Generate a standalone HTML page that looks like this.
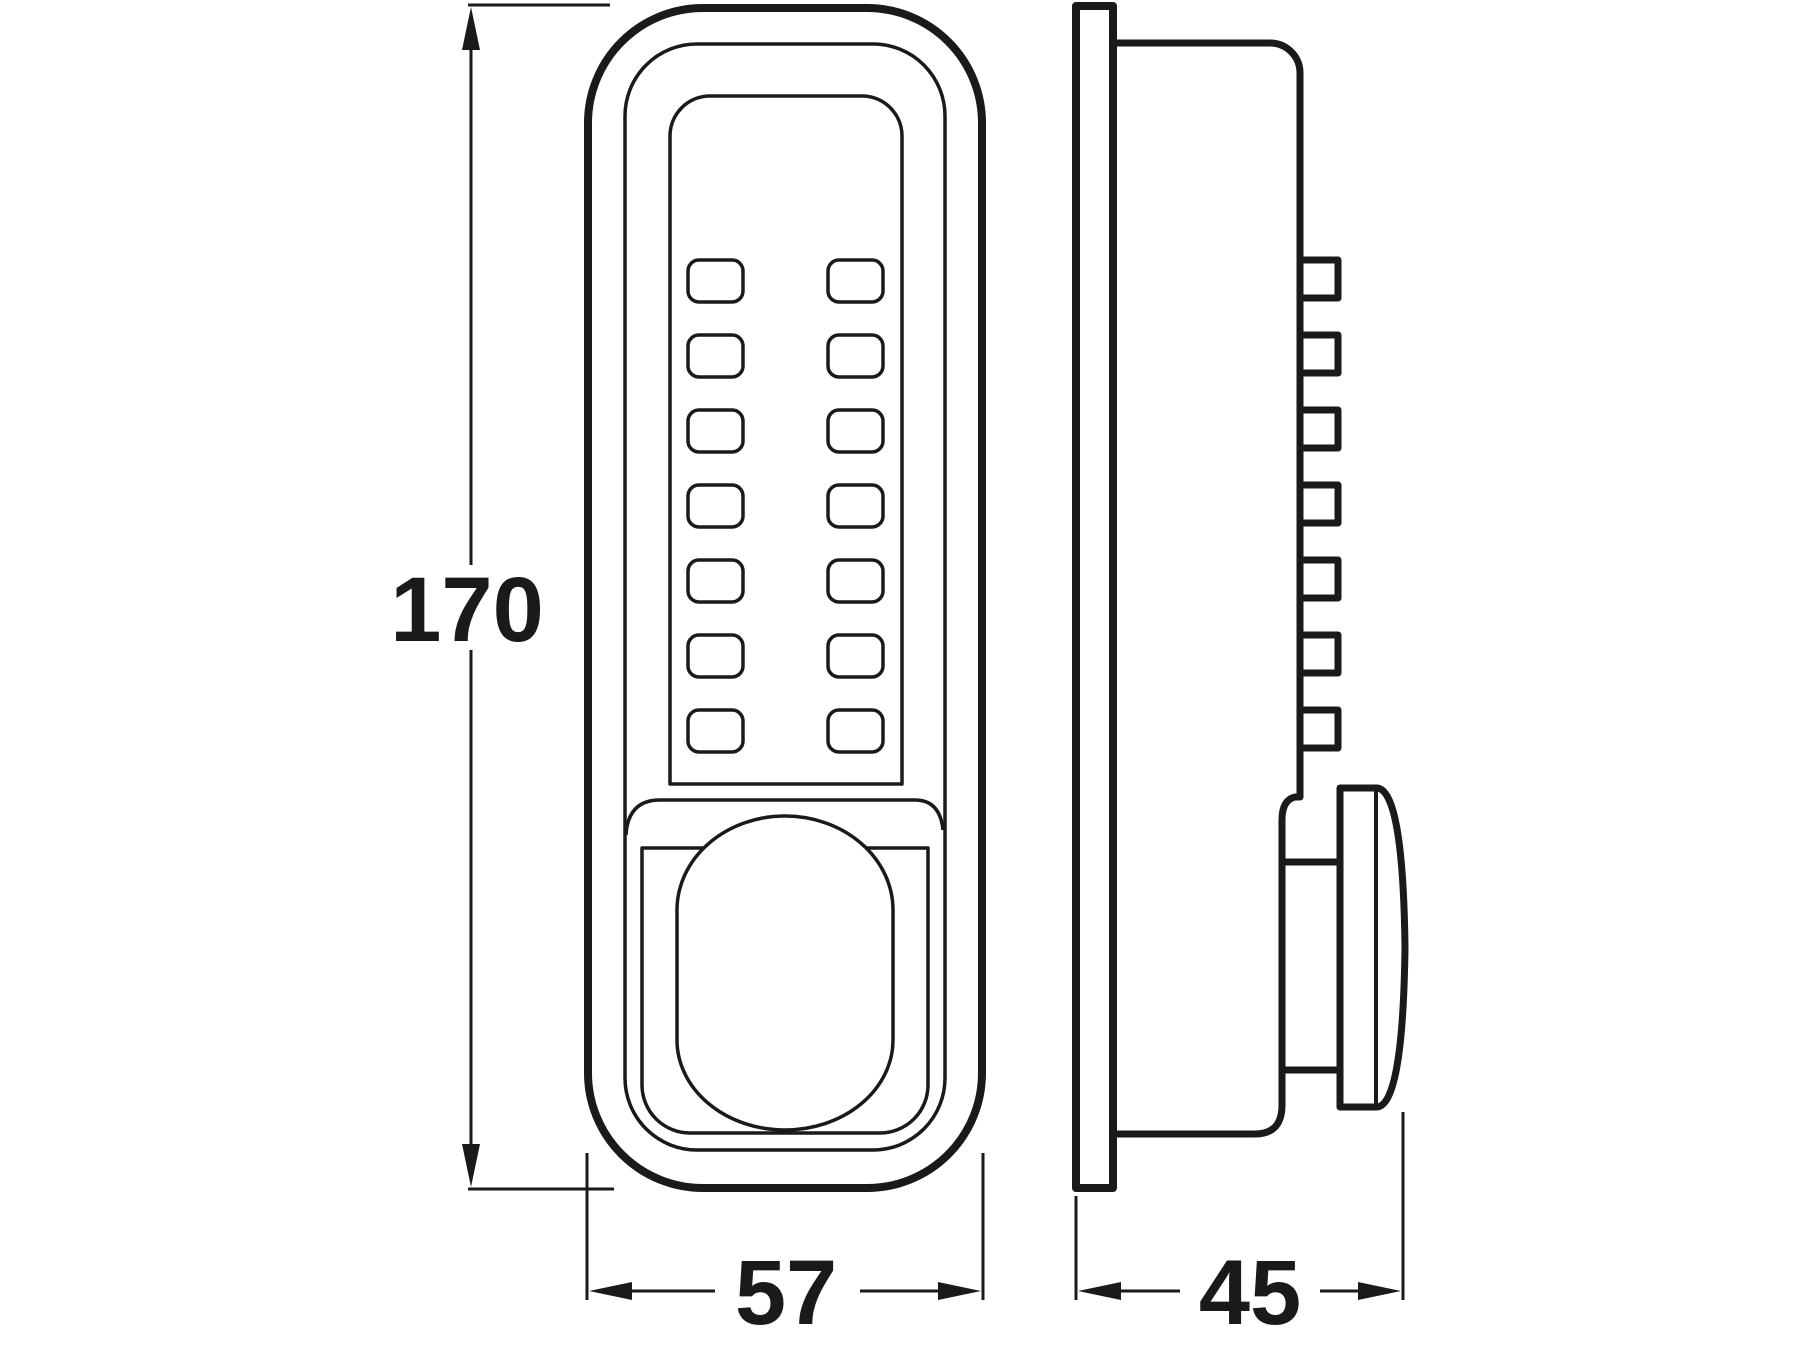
<!DOCTYPE html>
<html><head><meta charset="utf-8"><style>
html,body{margin:0;padding:0;background:#fff;}
svg{display:block;}
text{font-family:"Liberation Sans",Arial,sans-serif;font-weight:bold;fill:#1a1a1a;}
</style></head><body>
<svg width="1800" height="1350" viewBox="0 0 1800 1350" xmlns="http://www.w3.org/2000/svg">
<g fill="none" stroke="#1a1a1a" stroke-linejoin="round">
<!-- front view -->
<rect x="588" y="8" width="394" height="1180" rx="115" ry="115" stroke-width="8"/>
<rect x="625" y="44" width="320" height="1106" rx="72" ry="72" stroke-width="3.5"/>
<path d="M670 784 L670 136 A40 40 0 0 1 710 96 L862 96 A40 40 0 0 1 902 136 L902 784 Z" stroke-width="3.5"/>
<g stroke-width="3.5">
<rect x="688" y="260" width="55" height="42" rx="11"/><rect x="828" y="260" width="55" height="42" rx="11"/>
<rect x="688" y="335" width="55" height="42" rx="11"/><rect x="828" y="335" width="55" height="42" rx="11"/>
<rect x="688" y="410" width="55" height="42" rx="11"/><rect x="828" y="410" width="55" height="42" rx="11"/>
<rect x="688" y="485" width="55" height="42" rx="11"/><rect x="828" y="485" width="55" height="42" rx="11"/>
<rect x="688" y="560" width="55" height="42" rx="11"/><rect x="828" y="560" width="55" height="42" rx="11"/>
<rect x="688" y="635" width="55" height="42" rx="11"/><rect x="828" y="635" width="55" height="42" rx="11"/>
<rect x="688" y="710" width="55" height="42" rx="11"/><rect x="828" y="710" width="55" height="42" rx="11"/>
</g>
<path d="M626 835 Q628 800 660 800 L915 800 Q940 800 943 830" stroke-width="3.5"/>
<path d="M642 848 L642 1085 A48 48 0 0 0 690 1133 L880 1133 A48 48 0 0 0 928 1085 L928 848 Z" stroke-width="3.5" fill="none"/>
<path d="M677 910 A108 94 0 0 1 893 910 L893 1040 A108 90 0 0 1 677 1040 Z" stroke-width="3.5" fill="#fff"/>
<!-- side view -->
<rect x="1076" y="6" width="37" height="1182" stroke-width="8"/>
<path d="M1113 43 L1270 43 A30 30 0 0 1 1300 73 L1300 797 L1295 797 Q1282 800 1282 820 L1282 1105 Q1282 1134 1255 1134 L1113 1134" stroke-width="7"/>
<g stroke-width="7">
<rect x="1300" y="260" width="38" height="38"/>
<rect x="1300" y="335" width="38" height="38"/>
<rect x="1300" y="410" width="38" height="38"/>
<rect x="1300" y="485" width="38" height="38"/>
<rect x="1300" y="560" width="38" height="38"/>
<rect x="1300" y="635" width="38" height="38"/>
<rect x="1300" y="710" width="38" height="38"/>
<line x1="1282" y1="862" x2="1340" y2="862"/>
<line x1="1282" y1="1070" x2="1340" y2="1070"/>
<path d="M1340 788 L1377 788 Q1403 790 1405 947 Q1403 1105 1377 1107 L1340 1107 Z"/>
</g>
<line x1="1376" y1="790" x2="1376" y2="1105" stroke-width="4"/>
<!-- dimension lines -->
<g stroke-width="3">
<line x1="468" y1="5" x2="610" y2="5"/>
<line x1="468" y1="1189" x2="614" y2="1189"/>
<line x1="471" y1="40" x2="471" y2="565"/>
<line x1="471" y1="650" x2="471" y2="1155"/>
<line x1="587" y1="1153" x2="587" y2="1300"/>
<line x1="983" y1="1153" x2="983" y2="1300"/>
<line x1="620" y1="1291" x2="715" y2="1291"/>
<line x1="860" y1="1291" x2="950" y2="1291"/>
<line x1="1076" y1="1196" x2="1076" y2="1300"/>
<line x1="1403" y1="1112" x2="1403" y2="1300"/>
<line x1="1110" y1="1291" x2="1180" y2="1291"/>
<line x1="1320" y1="1291" x2="1370" y2="1291"/>
</g>
</g>
<g fill="#1a1a1a">
<polygon points="471,7 462,50 480,50"/>
<polygon points="471,1187 462,1144 480,1144"/>
<polygon points="589,1291 632,1282 632,1300"/>
<polygon points="981,1291 938,1282 938,1300"/>
<polygon points="1078,1291 1121,1282 1121,1300"/>
<polygon points="1401,1291 1358,1282 1358,1300"/>
</g>
<text x="467" y="641" font-size="92" text-anchor="middle">170</text>
<text x="786" y="1324" font-size="92" text-anchor="middle">57</text>
<text x="1250" y="1324" font-size="92" text-anchor="middle">45</text>
</svg>
</body></html>
